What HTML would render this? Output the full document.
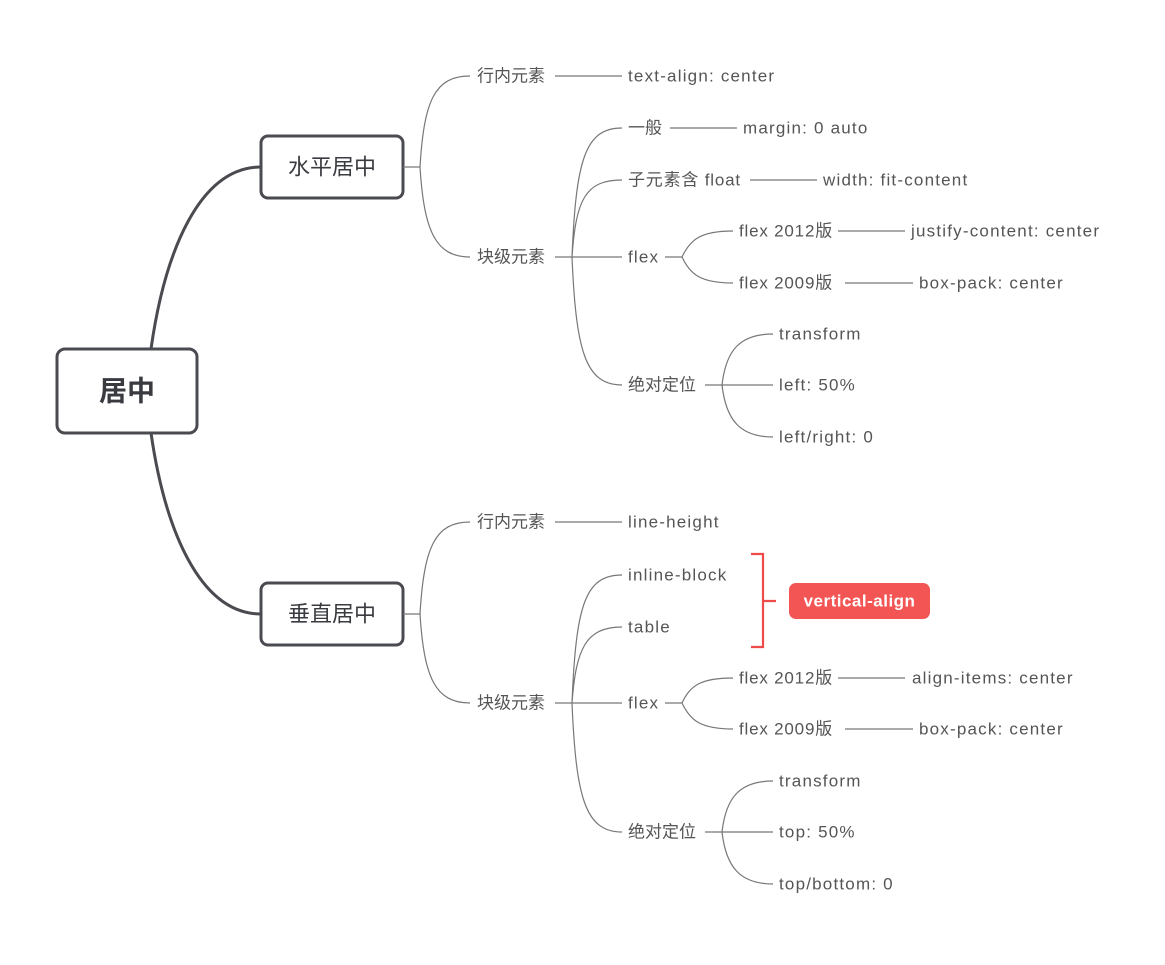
<!DOCTYPE html>
<html><head><meta charset="utf-8"><style>
html,body{margin:0;padding:0;background:#fff;}
svg text{font-family:"Liberation Sans","Noto Sans CJK SC",sans-serif;}
.t{font-size:17px;fill:#555;dominant-baseline:central;}
.e{letter-spacing:1.2px;}
.m{letter-spacing:0.8px;}
.l{stroke:#777;stroke-width:1.2;fill:none;}
</style></head><body>
<svg width="1165" height="960" viewBox="0 0 1165 960" xmlns="http://www.w3.org/2000/svg">
<path d="M151 349 C165 250,200 167,261 167" stroke="#4a4b50" stroke-width="3" fill="none"/>
<path d="M151 433 C165 530,200 614,261 614" stroke="#4a4b50" stroke-width="3" fill="none"/>
<rect x="57" y="349" width="140" height="84" rx="8" fill="#fff" stroke="#4a4b50" stroke-width="3"/>
<text x="127" y="391" text-anchor="middle" dominant-baseline="central" font-size="28" font-weight="bold" fill="#3a3b40">居中</text>
<rect x="261" y="136" width="142" height="62" rx="7" fill="#fff" stroke="#4a4b50" stroke-width="3"/>
<text x="332" y="167" text-anchor="middle" dominant-baseline="central" font-size="22" fill="#3a3b40">水平居中</text>
<rect x="261" y="583" width="142" height="62" rx="7" fill="#fff" stroke="#4a4b50" stroke-width="3"/>
<text x="332" y="614" text-anchor="middle" dominant-baseline="central" font-size="22" fill="#3a3b40">垂直居中</text>

<g>
<path class="l" d="M403 167 H420 M420 167 C424 100,435 76,470 76 M420 167 C424 230,435 257,470 257"/>
<text class="t" x="477" y="76">行内元素</text>
<path class="l" d="M555 76 H622"/>
<text class="t e" x="628" y="76">text-align: center</text>
<text class="t" x="477" y="257">块级元素</text>
<path class="l" d="M555 257 H622 M572 257 C576 160,585 128,622 128 M572 257 C576 200,585 180,622 180 M572 257 C576 350,585 385,622 385"/>
<text class="t" x="628" y="128">一般</text>
<path class="l" d="M670 128 H737"/>
<text class="t e" x="743" y="128">margin: 0 auto</text>
<text class="t m" x="628" y="180">子元素含 float</text>
<path class="l" d="M750 180 H817"/>
<text class="t e" x="823" y="180">width: fit-content</text>
<text class="t e" x="628" y="257">flex</text>
<path class="l" d="M665 257 H682 M682 257 C690 240,700 231,733 231 M682 257 C690 274,700 283,733 283"/>
<text class="t m" x="739" y="231">flex 2012版</text>
<path class="l" d="M838 231 H905"/>
<text class="t e" x="911" y="231">justify-content: center</text>
<text class="t m" x="739" y="283">flex 2009版</text>
<path class="l" d="M845 283 H913"/>
<text class="t e" x="919" y="283">box-pack: center</text>
<text class="t" x="628" y="385">绝对定位</text>
<path class="l" d="M705 385 H773 M722 385 C726 350,740 334,773 334 M722 385 C726 420,740 437,773 437"/>
<text class="t e" x="779" y="334">transform</text>
<text class="t e" x="779" y="385">left: 50%</text>
<text class="t e" x="779" y="437">left/right: 0</text>
</g>

<g>
<path class="l" d="M403 614 H420 M420 614 C424 547,435 522,470 522 M420 614 C424 677,435 703,470 703"/>
<text class="t" x="477" y="522">行内元素</text>
<path class="l" d="M555 522 H622"/>
<text class="t e" x="628" y="522">line-height</text>
<text class="t" x="477" y="703">块级元素</text>
<path class="l" d="M555 703 H622 M572 703 C576 605,585 575,622 575 M572 703 C576 650,585 627,622 627 M572 703 C576 797,585 832,622 832"/>
<text class="t e" x="628" y="575">inline-block</text>
<text class="t e" x="628" y="627">table</text>
<text class="t e" x="628" y="703">flex</text>
<path class="l" d="M665 703 H682 M682 703 C690 686,700 678,733 678 M682 703 C690 720,700 729,733 729"/>
<text class="t m" x="739" y="678">flex 2012版</text>
<path class="l" d="M838 678 H905"/>
<text class="t e" x="912" y="678">align-items: center</text>
<text class="t m" x="739" y="729">flex 2009版</text>
<path class="l" d="M845 729 H913"/>
<text class="t e" x="919" y="729">box-pack: center</text>
<text class="t" x="628" y="832">绝对定位</text>
<path class="l" d="M705 832 H773 M722 832 C726 797,740 781,773 781 M722 832 C726 867,740 884,773 884"/>
<text class="t e" x="779" y="781">transform</text>
<text class="t e" x="779" y="832">top: 50%</text>
<text class="t e" x="779" y="884">top/bottom: 0</text>
</g>

<path d="M751 554 H763 V647 H751 M763 601 H776" stroke="#ef4b4b" stroke-width="2.2" fill="none"/>
<rect x="789" y="583" width="141" height="36" rx="7" fill="#f35454"/>
<text x="859.5" y="601" text-anchor="middle" dominant-baseline="central" font-size="17" font-weight="bold" fill="#fff" letter-spacing="0.5">vertical-align</text>
</svg>
</body></html>
